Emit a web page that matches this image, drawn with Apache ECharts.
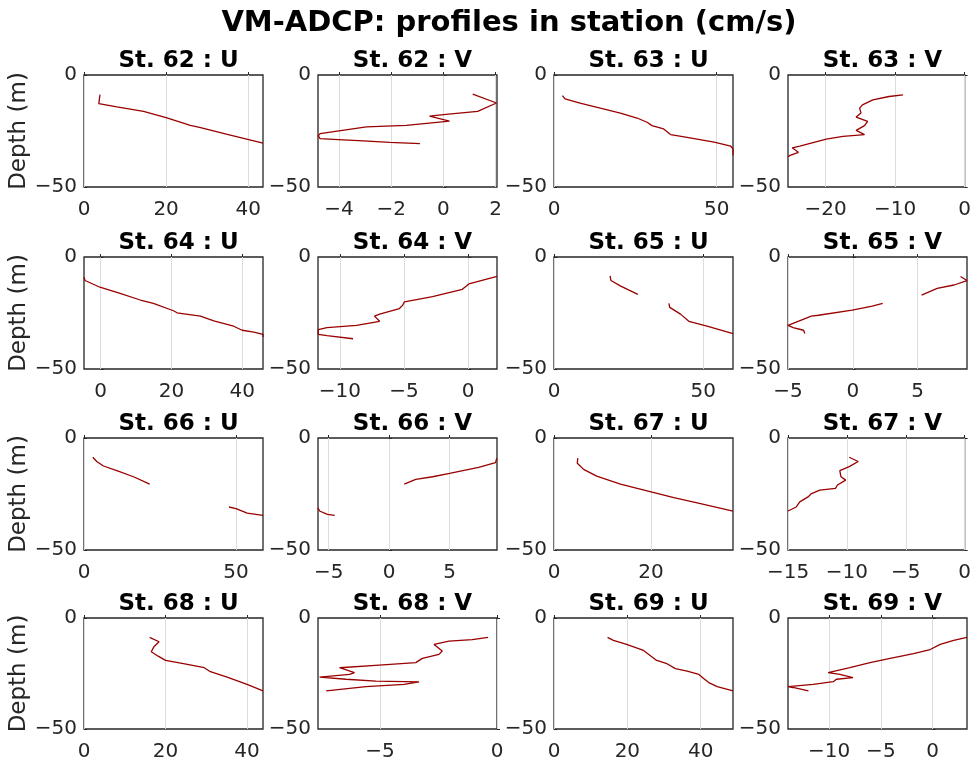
<!DOCTYPE html>
<html><head><meta charset="utf-8">
<script src="https://cdn.jsdelivr.net/npm/echarts@6/dist/echarts.min.js"></script>
<style>html,body{margin:0;padding:0;background:#fff}#c{width:974px;height:762px}</style>
</head><body><div id="c"></div>
<script>
const mainTitle = 'VM-ADCP: profiles in station (cm/s)';
const panelTitles = ['St. 62 : U','St. 62 : V','St. 63 : U','St. 63 : V',
  'St. 64 : U','St. 64 : V','St. 65 : U','St. 65 : V',
  'St. 66 : U','St. 66 : V','St. 67 : U','St. 67 : V',
  'St. 68 : U','St. 68 : V','St. 69 : U','St. 69 : V'];
const xMins = [0, -4.8, 0, -25.4, -4.7, -11.7, 0, -5, 0, -5.88, 0, -15, 0, -7.65, 0, -13.98];
const xMaxs = [43.6, 2.05, 55, 0, 45.9, 2.24, 60, 8.8, 58.9, 8.92, 36.9, 0, 43.9, 0, 48.8, 3.33];
const xTicks = [[0,20,40],[-4,-2,0,2],[0,50],[-20,-10,0],
  [0,20,40],[-10,-5,0],[0,50],[-5,0,5],
  [0,50],[-5,0,5],[0,20],[-15,-10,-5,0],
  [0,20,40],[-5,0],[0,20,40],[-10,-5,0]];
const depthTicks = [-50, 0];

// profiles (null = gap)
const st62_u = [3.9, 3.6, 8.0, 14.5, 20.2, 25.9, 28.4, 34.9, 43.6];
const st62_u_z = [-8.8, -12.8, -14.2, -16.2, -19.1, -22.5, -23.5, -26.5, -30.4];
const st62_v = [1.12, 2.03, 1.31, 0.1, -0.53, -0.53, 0.23, -1.42, -2.95, -4.72, -4.79, -4.72, -4.2, -3.07, -2.05, -0.9];
const st62_v_z = [-8.5, -12.5, -16.2, -17.6, -18.4, -18.8, -20.6, -22.5, -23.2, -26.2, -27.2, -28.4, -28.7, -29.4, -30.1, -30.6];
const st63_u = [2.6, 3.4, 8.0, 14.2, 20.4, 25.5, 28.6, 30.1, 33.7, 35.8, 40.9, 49.2, 54.3, 55, 55];
const st63_u_z = [-9.2, -10.7, -12.6, -14.8, -17.0, -19.2, -21.1, -22.6, -24.1, -26.6, -27.8, -30.0, -31.8, -33, -35.8];
const st63_v = [-8.86, -10.86, -13.2, -14.7, -15.1, -14.9, -15.6, -13.95, -14.4, -15.6, -14.4, -17.5, -19.9, -23.7, -24.8, -23.9, -25.1, -25.4];
const st63_v_z = [-8.9, -9.6, -11.1, -13.3, -14.8, -17.0, -18.8, -20.7, -22.6, -24.7, -26.6, -27.4, -28.6, -31.8, -32.5, -34.5, -35.9, -36.5];
const st64_u = [-4.7, -4.4, -0.2, 5.5, 11.2, 14.9, 20.6, 21.6, 28.2, 32.0, 37.6, 40.0, 43.3, 45.9, 45.9];
const st64_u_z = [-9.0, -10.5, -13.5, -16.2, -19.2, -20.7, -24.0, -24.9, -26.4, -28.5, -30.9, -32.7, -33.5, -34.5, -35.7];
const st64_v = [2.24, 0.05, -0.46, -2.78, -4.97, -5.1, -5.36, -6.9, -7.3, -6.9, -8.7, -11.0, -11.68, -11.68, -11.0, -8.97];
const st64_v_z = [-8.7, -12.0, -14.4, -17.7, -20.0, -21.5, -23.0, -25.5, -26.4, -28.7, -30.5, -31.5, -32.4, -34.5, -35.1, -36.5];
const st65_u = [18.8, 19.1, 22.2, 28.1, null, 38.5, 38.8, 42.4, 45.2, 51.3, 60.0];
const st65_u_z = [-8.4, -10.5, -12.9, -16.7, null, -20.7, -22.5, -25.5, -28.7, -30.9, -34.2];
const st65_v = [8.3, 8.8, 7.8, 6.5, 5.3, null, 2.3, 1.5, -0.05, -2.65, -3.2, -5.0, -4.6, -3.8, -3.7];
const st65_v_z = [-8.7, -10.5, -12.5, -14.0, -17.0, null, -20.7, -21.9, -23.7, -26.0, -26.4, -30.5, -31.5, -32.7, -34.2];
const st66_u = [2.9, 4.2, 6.4, 10.8, 16.3, 21.6, null, 47.7, 50, 53.7, 58.9];
const st66_u_z = [-8.6, -10.5, -12.5, -14.6, -17.3, -20.6, null, -30.8, -31.5, -33.5, -34.5];
const st66_v = [8.9, 8.8, 7.4, 5.0, 3.6, 2.2, 1.25, null, -5.88, -5.75, -5.1, -4.5];
const st66_v_z = [-9.0, -11.0, -13.1, -15.8, -17.3, -18.5, -20.6, null, -31.1, -32.6, -34.1, -34.5];
const st67_u = [4.9, 4.8, 6.1, 8.8, 13.7, 20, 24.7, 30.2, 36.9];
const st67_u_z = [-9.0, -11.3, -14.0, -17.0, -20.6, -24.0, -26.6, -29.3, -32.6];
const st67_v = [-9.8, -9.04, -9.8, -10.6, -10.5, -10.1, -10.8, -10.97, -12.3, -13.0, -13.3, -14.0, -14.3, -15.0];
const st67_v_z = [-8.6, -10.5, -12.8, -14.6, -17.3, -18.8, -21.0, -22.5, -23.3, -24.8, -26.3, -28.5, -30.8, -32.6];
const st68_u = [16.1, 18.4, 17.1, 16.5, 18.2, 20.0, 24.4, 29.5, 31.0, 35.1, 40.0, 43.9];
const st68_u_z = [-8.7, -10.7, -13.1, -15.2, -17.2, -19.1, -20.6, -22.4, -24.2, -26.6, -29.9, -32.8];
const st68_v = [-0.38, -1.06, -2.05, -2.69, -2.34, -2.48, -3.19, -3.47, -5.03, -6.73, -6.8, -6.09, -6.3, -7.58, -7.65, -6.45, -5.17, -3.33, -3.97, -5.6, -7.3];
const st68_v_z = [-8.7, -9.7, -10.4, -11.9, -14.9, -16.4, -18.2, -20.1, -21.2, -22.4, -23.1, -24.6, -25.4, -26.6, -27.2, -27.6, -28.4, -28.8, -29.9, -30.9, -32.8];
const st69_u = [14.6, 16.2, 19.8, 24.4, 28.0, 30.8, 33.1, 36.3, 39.5, 40.8, 42.2, 44.5, 48.8];
const st69_u_z = [-8.7, -10.1, -11.9, -14.6, -19.1, -20.6, -22.8, -23.9, -25.4, -27.2, -29.1, -30.9, -32.8];
const st69_v = [3.33, 2.04, 0.74, -0.23, -1.84, -4.1, -6.05, -8.0, -10.1, -8.96, -7.7, -9.3, -9.6, -11.55, -13.98, -13.5, -12.0];
const st69_v_z = [-8.7, -10.1, -11.9, -14.2, -16.0, -18.2, -20.1, -22.4, -24.6, -25.4, -26.9, -27.6, -28.7, -29.9, -30.9, -31.3, -32.8];

const profiles = [
  [st62_u, st62_u_z], [st62_v, st62_v_z], [st63_u, st63_u_z], [st63_v, st63_v_z],
  [st64_u, st64_u_z], [st64_v, st64_v_z], [st65_u, st65_u_z], [st65_v, st65_v_z],
  [st66_u, st66_u_z], [st66_v, st66_v_z], [st67_u, st67_u_z], [st67_v, st67_v_z],
  [st68_u, st68_u_z], [st68_v, st68_v_z], [st69_u, st69_u_z], [st69_v, st69_v_z]
];

const colLeft = [84, 318, 554, 788];
const rowTop = [75, 257, 438, 618];
const PW = 179, PH = 112;
const FONT = 'DejaVu Sans';
const TXT = '#262626';
const minus = v => String(v).replace('-', '\u2212');

const grids = [], xAxes = [], yAxes = [], series = [], titles = [];
titles.push({ text: mainTitle, left: 504, top: 4, textAlign: 'center',
  textStyle: { fontFamily: FONT, fontSize: 29, fontWeight: 'bold', color: '#000' } });

for (let i = 0; i < 16; i++) {
  const r = Math.floor(i / 4), c = i % 4;
  const L = colLeft[c], T = rowTop[r];
  grids.push({ left: L, top: T, width: PW, height: PH, show: true,
    borderColor: TXT, borderWidth: 1.3, backgroundColor: 'transparent', containLabel: false });
  titles.push({ text: panelTitles[i], left: L + PW / 2, top: T - 30, textAlign: 'center',
    textStyle: { fontFamily: FONT, fontSize: 23, fontWeight: 'bold', color: '#000' } });
  xAxes.push({ type: 'value', gridIndex: i, min: xMins[i], max: xMaxs[i],
    axisLine: { show: false },
    axisTick: { show: true, inside: true, length: 3, customValues: xTicks[i], lineStyle: { color: TXT } },
    axisLabel: { customValues: xTicks[i], fontFamily: FONT, fontSize: 20, color: TXT, margin: 13, formatter: minus },
    splitLine: { show: true, lineStyle: { color: '#dcdcdc', width: 1 } } });
  yAxes.push({ type: 'value', gridIndex: i, min: -50, max: 0, interval: 50,
    axisLine: { show: false },
    axisTick: { show: true, inside: true, length: 3, lineStyle: { color: TXT } },
    axisLabel: { fontFamily: FONT, fontSize: 20, color: TXT, margin: 7, formatter: minus },
    splitLine: { show: false },
    name: c === 0 ? 'Depth (m)' : '', nameLocation: 'middle', nameGap: 46, nameRotate: 90,
    nameTextStyle: { fontFamily: FONT, fontSize: 23, color: TXT } });
  const xs = profiles[i][0], zs = profiles[i][1];
  const data = xs.map((v, k) => (v === null || zs[k] === null) ? ['-', '-'] : [v, zs[k]]);
  series.push({ type: 'line', xAxisIndex: i, yAxisIndex: i, data: data,
    showSymbol: false, symbol: 'none', connectNulls: false, animation: false,
    lineStyle: { color: '#990000', width: 1.3 }, clip: true });
}

const chart = echarts.init(document.getElementById('c'), null, { renderer: 'canvas' });
chart.setOption({ backgroundColor: '#fff', animation: false, title: titles,
  grid: grids, xAxis: xAxes, yAxis: yAxes, series: series });
</script></body></html>
